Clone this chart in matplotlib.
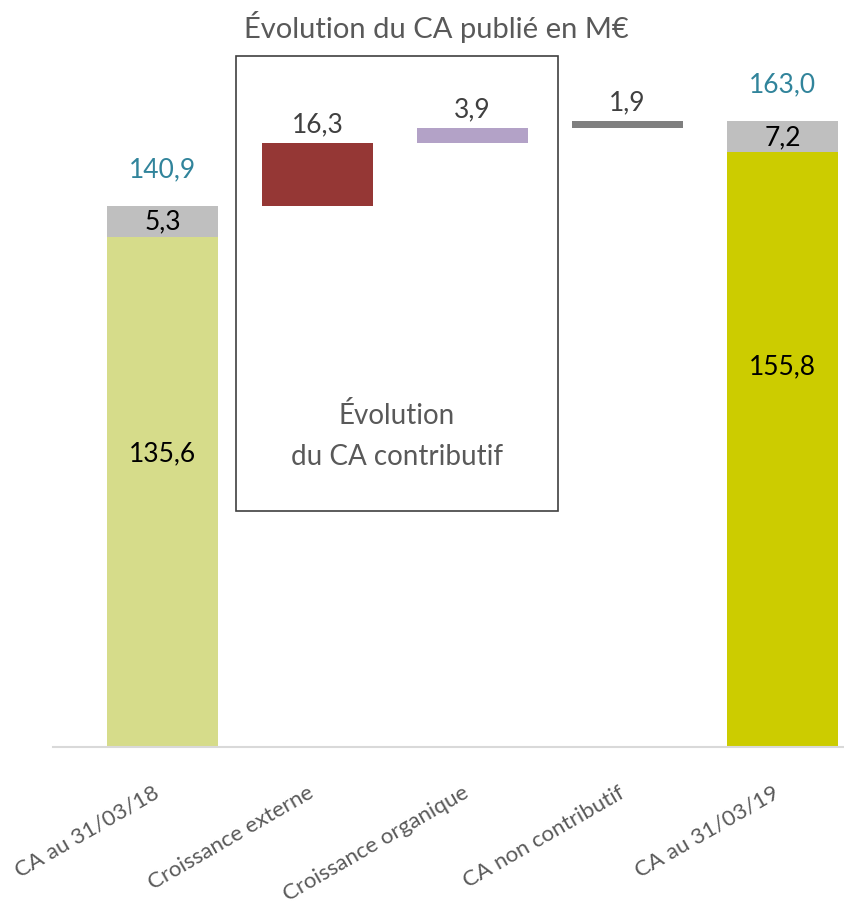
import matplotlib
matplotlib.use("Agg")
import matplotlib.pyplot as plt
from matplotlib.patches import Rectangle

plt.rcParams['font.family'] = ['Lato', 'DejaVu Sans']

# ---- data ----
categories = ["CA au 31/03/18", "Croissance externe", "Croissance organique",
              "CA non contributif", "CA au 31/03/19"]
contrib_start = 135.6
noncontrib_start = 5.3
delta_externe = 16.3
delta_organique = 3.9
delta_noncontrib = 1.9
contrib_end = 155.8
noncontrib_end = 7.2
total_start = 140.9
total_end = 163.0

# ---- styles ----
c_start = "#D6DC8A"
c_end = "#CCCC00"
c_ext = "#953735"
c_org = "#B3A2C7"
c_nc = "#7F7F7F"
c_box = "#BFBFBF"
c_teal = "#31849B"
c_dark = "#404040"
c_grey = "#595959"
bar_w = 0.716
grey_box_h = 8.0

fig = plt.figure(figsize=(8.44, 9.04), dpi=100)
ax = fig.add_axes([53/844, 156/904, 1 - 53/844, 180*3.84/904])
ax.set_xlim(-0.706, 4.397)
ax.set_ylim(0, 180)

x = list(range(len(categories)))

# first total bar
ax.bar(x[0], contrib_start + noncontrib_start, width=bar_w, color=c_start)
# floating bars
b1 = total_start
ax.bar(x[1], delta_externe, bottom=b1, width=bar_w, color=c_ext)
b2 = b1 + delta_externe
ax.bar(x[2], delta_organique, bottom=b2, width=bar_w, color=c_org)
b3 = b2 + delta_organique
ax.bar(x[3], delta_noncontrib, bottom=b3, width=bar_w, color=c_nc)
# last total bar
ax.bar(x[4], contrib_end + noncontrib_end, width=bar_w, color=c_end)

# grey label boxes for non-contributive part
for xi, tot, val in [(x[0], total_start, noncontrib_start), (x[4], total_end, noncontrib_end)]:
    ax.bar(xi, grey_box_h, bottom=tot - grey_box_h, width=bar_w, color=c_box)
    ax.text(xi, tot - grey_box_h / 2, f"{val:.1f}".replace('.', ','),
            ha='center', va='center', fontsize=19, color='black')

# totals labels (teal)
for xi, tot in [(x[0], total_start), (x[4], total_end)]:
    ax.annotate(f"{tot:.1f}".replace('.', ','), (xi, tot), xytext=(0, 27),
                textcoords='offset points', ha='center', va='center',
                fontsize=19, color=c_teal)

# contributive labels inside bars
for xi, val, frac in [(x[0], contrib_start, 0.565), (x[4], contrib_end, 0.637)]:
    ax.text(xi, val * frac, f"{val:.1f}".replace('.', ','),
            ha='center', va='center', fontsize=19, color='black')

# floating bar labels
for xi, bottom, val in [(x[1], b1, delta_externe), (x[2], b2, delta_organique),
                        (x[3], b3, delta_noncontrib)]:
    ax.annotate(f"{val:.1f}".replace('.', ','), (xi, bottom + val), xytext=(0, 14),
                textcoords='offset points', ha='center', va='center',
                fontsize=19, color=c_dark)

# axes styling
for s in ['top', 'right', 'left']:
    ax.spines[s].set_visible(False)
ax.spines['bottom'].set_color('#D9D9D9')
ax.spines['bottom'].set_linewidth(1.5)
ax.set_yticks([])
ax.set_xticks(x)
ax.set_xticklabels(categories, rotation=30, ha='right', rotation_mode='anchor',
                   fontsize=16, color=c_grey)
ax.tick_params(axis='x', length=0, pad=25)
for lab in ax.get_xticklabels():
    lab.set_transform(lab.get_transform() + matplotlib.transforms.ScaledTranslation(-0.10, 0, fig.dpi_scale_trans))

# title
fig.text(436/844, 1 - 27/904, "Évolution du CA publié en M€", ha='center', va='center',
         fontsize=21, color=c_grey)

# box around contributive evolution
fig.patches.append(Rectangle((236/844, 1 - 512/904), (558 - 236)/844, (512 - 57)/904,
                             transform=fig.transFigure, fill=False,
                             edgecolor=c_dark, linewidth=1.2, zorder=5))
fig.text(397/844, 1 - 436/904, "Évolution\ndu CA contributif", ha='center', va='center',
         fontsize=20, color=c_grey, linespacing=1.75)

fig.savefig("out.png", dpi=100)
